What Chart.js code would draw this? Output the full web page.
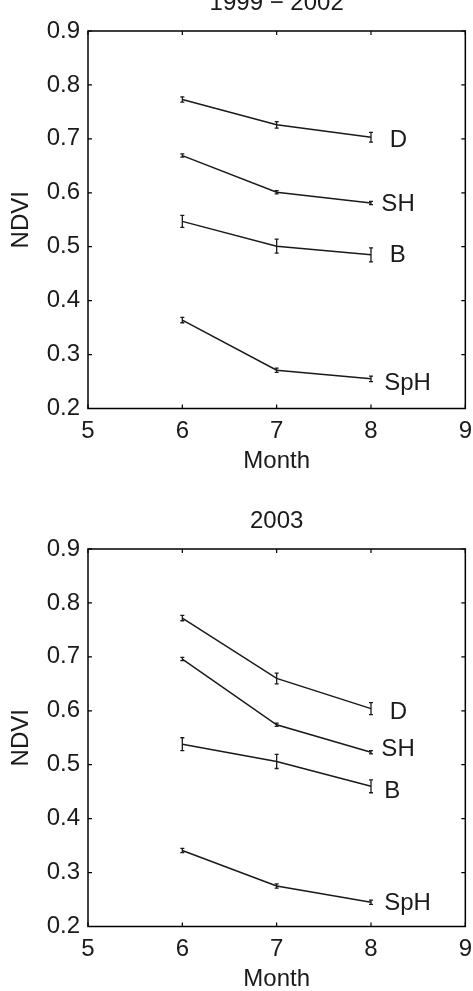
<!DOCTYPE html>
<html><head><meta charset="utf-8">
<script src="https://cdn.jsdelivr.net/npm/chart.js@4/dist/chart.umd.min.js"></script>
<style>
html,body{margin:0;padding:0;width:473px;height:991px;overflow:hidden;background:#fff}
canvas{position:absolute;left:0}
#c1{top:-20px}
#c2{top:498px}
</style></head><body>
<canvas id="c1" width="480" height="500" style="width:480px;height:500px"></canvas>
<canvas id="c2" width="480" height="500" style="width:480px;height:500px"></canvas>
<script>
// ---- data ----
const months = [6, 7, 8];
const seriesNames = ['D', 'SH', 'B', 'SpH'];
const xTicks = [5, 6, 7, 8, 9];
const yTicks = [0.2, 0.3, 0.4, 0.5, 0.6, 0.7, 0.8, 0.9];

// 1999 - 2002
const D_9902   = [0.773, 0.726, 0.703];
const SH_9902  = [0.669, 0.601, 0.581];
const B_9902   = [0.547, 0.501, 0.485];
const SpH_9902 = [0.364, 0.271, 0.255];
const D_9902_err   = [0.005, 0.006, 0.009];
const SH_9902_err  = [0.003, 0.003, 0.003];
const B_9902_err   = [0.011, 0.013, 0.013];
const SpH_9902_err = [0.005, 0.004, 0.005];

// 2003
const D_2003   = [0.772, 0.660, 0.604];
const SH_2003  = [0.696, 0.574, 0.523];
const B_2003   = [0.538, 0.506, 0.460];
const SpH_2003 = [0.341, 0.275, 0.245];
const D_2003_err   = [0.005, 0.010, 0.011];
const SH_2003_err  = [0.003, 0.003, 0.003];
const B_2003_err   = [0.012, 0.013, 0.012];
const SpH_2003_err = [0.004, 0.004, 0.004];

// text annotation anchors (data units), like text(x, y, label)
const labelX_9902 = [8.20, 8.11, 8.20, 8.14];
const labelY_9902 = [0.699, 0.580, 0.486, 0.249];
const labelX_2003 = [8.20, 8.11, 8.14, 8.14];
const labelY_2003 = [0.599, 0.531, 0.452, 0.245];

// ---- drawing ----
const FONT = "'Liberation Sans', Arial, Helvetica, sans-serif";
const INK = '#1a1a1a';

const decor = {
  id: 'decor',
  afterDatasetsDraw(chart, args, opts) {
    const {ctx, chartArea: a, scales: {x, y}} = chart;
    ctx.save();
    // error bars
    ctx.strokeStyle = INK;
    ctx.lineWidth = 1.3;
    chart.data.datasets.forEach(ds => {
      ds.data.forEach((p, i) => {
        const e = ds.err[i];
        const px = x.getPixelForValue(p.x);
        const y1 = y.getPixelForValue(p.y - e);
        const y2 = y.getPixelForValue(p.y + e);
        const c = 2;
        ctx.beginPath();
        ctx.moveTo(px, y1); ctx.lineTo(px, y2);
        ctx.moveTo(px - c, y1); ctx.lineTo(px + c, y1);
        ctx.moveTo(px - c, y2); ctx.lineTo(px + c, y2);
        ctx.stroke();
      });
    });
    // series labels
    ctx.fillStyle = INK;
    ctx.font = '24px ' + FONT;
    ctx.textAlign = 'left';
    ctx.textBaseline = 'middle';
    opts.names.forEach((n, i) => {
      ctx.fillText(n, x.getPixelForValue(opts.lx[i]), y.getPixelForValue(opts.ly[i]) + 1);
    });
    // box
    ctx.strokeStyle = '#000';
    ctx.lineWidth = 1.5;
    ctx.strokeRect(a.left, a.top, a.right - a.left, a.bottom - a.top);
    // inward ticks on all sides
    const L = 4;
    ctx.lineWidth = 1.2;
    ctx.beginPath();
    x.ticks.forEach(t => {
      const px = x.getPixelForValue(t.value);
      ctx.moveTo(px, a.bottom); ctx.lineTo(px, a.bottom - L);
      ctx.moveTo(px, a.top); ctx.lineTo(px, a.top + L);
    });
    y.ticks.forEach(t => {
      const py = y.getPixelForValue(t.value);
      ctx.moveTo(a.left, py); ctx.lineTo(a.left + L, py);
      ctx.moveTo(a.right, py); ctx.lineTo(a.right - L, py);
    });
    ctx.stroke();
    ctx.restore();
  }
};

function makeChart(id, title, series, errs, lx, ly) {
  const datasets = series.map((vals, k) => ({
    label: seriesNames[k],
    data: months.map((m, i) => ({x: m, y: vals[i]})),
    err: errs[k],
    borderColor: INK,
    borderWidth: 1.5,
    pointRadius: 0,
    showLine: true,
    fill: false,
    tension: 0
  }));
  return new Chart(document.getElementById(id), {
    type: 'scatter',
    data: {datasets},
    plugins: [decor],
    options: {
      responsive: false,
      animation: false,
      devicePixelRatio: 1,
      layout: {padding: {left: 0, right: 13.5, top: 0, bottom: 0}},
      plugins: {
        legend: {display: false},
        tooltip: {enabled: false},
        title: {
          display: true,
          fullSize: false,
          text: title,
          color: INK,
          font: {family: FONT, size: 24, weight: 'normal'},
          padding: {top: 8.6, bottom: 13.6}
        },
        decor: {names: seriesNames, lx, ly}
      },
      scales: {
        x: {
          type: 'linear',
          min: 5, max: 9,
          afterBuildTicks: s => { s.ticks = xTicks.map(v => ({value: v})); },
          afterFit: s => { s.height = 71.5; },
          grid: {display: false, drawTicks: false},
          border: {display: false},
          ticks: {color: INK, padding: 8, font: {family: FONT, size: 24}, maxRotation: 0,
                  callback: v => String(v)},
          title: {display: true, text: 'Month', color: INK,
                  font: {family: FONT, size: 24}, padding: {top: 0, bottom: 4}}
        },
        y: {
          type: 'linear',
          min: 0.2, max: 0.9,
          afterBuildTicks: s => { s.ticks = yTicks.map(v => ({value: v})); },
          afterFit: s => { s.width = 88; },
          grid: {display: false, drawTicks: false},
          border: {display: false},
          ticks: {color: INK, padding: 8, font: {family: FONT, size: 24},
                  callback: v => Number(v).toFixed(1)},
          title: {display: true, text: 'NDVI', color: INK,
                  font: {family: FONT, size: 24}, padding: {top: 7, bottom: 0}}
        }
      }
    }
  });
}

makeChart('c1', '1999 \u2212 2002',
  [D_9902, SH_9902, B_9902, SpH_9902],
  [D_9902_err, SH_9902_err, B_9902_err, SpH_9902_err],
  labelX_9902, labelY_9902);
makeChart('c2', '2003',
  [D_2003, SH_2003, B_2003, SpH_2003],
  [D_2003_err, SH_2003_err, B_2003_err, SpH_2003_err],
  labelX_2003, labelY_2003);
</script>
</body></html>
